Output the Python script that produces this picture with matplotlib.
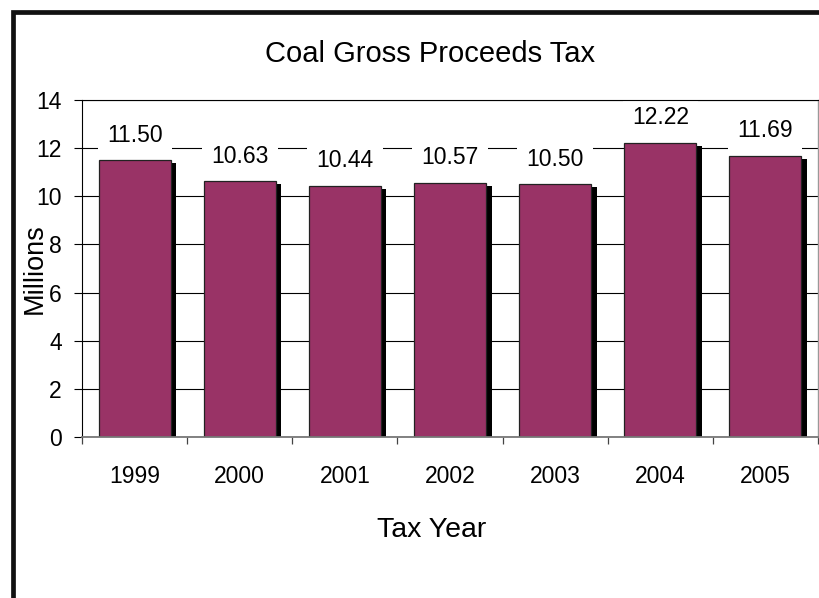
import matplotlib
matplotlib.use("Agg")
import matplotlib.pyplot as plt
import matplotlib.transforms as mtransforms
from matplotlib.patches import Rectangle

plt.rcParams['font.family'] = ['Liberation Sans', 'DejaVu Sans']

# tax collected per year, in millions
years = ['1999', '2000', '2001', '2002', '2003', '2004', '2005']
tax_millions = [11.50, 10.63, 10.44, 10.57, 10.50, 12.22, 11.69]
y_ticks = [0, 2, 4, 6, 8, 10, 12, 14]

W, H = 819, 598
fig = plt.figure(figsize=(W / 100, H / 100), dpi=100)
ax = fig.add_axes([82 / W, 1 - 437 / H, 736 / W, 337 / H])

x = range(len(years))
bar_w = 0.685

# drop shadow behind each bar, nudged right and down a few pixels
shadow = ax.bar(x, tax_millions, width=bar_w, color='black', zorder=1.9)
offset = mtransforms.ScaledTranslation(5.5 / 100, -3 / 100, fig.dpi_scale_trans)
for r in shadow:
    r.set_transform(ax.transData + offset)

bars = ax.bar(x, tax_millions, width=bar_w, color='#993366',
              edgecolor='#222222', linewidth=0.9, zorder=2)

for xi, v in zip(x, tax_millions):
    ax.annotate(f'{v:.2f}', (xi, v), xytext=(0, 18), textcoords='offset points',
                ha='center', va='center', fontsize=16.5, zorder=3,
                bbox=dict(boxstyle='square,pad=0.4', fc='white', ec='none'))

ax.set_xlim(-0.5, len(years) - 0.5)
ax.set_ylim(0, 14)
ax.set_yticks(y_ticks)
ax.set_yticklabels([str(t) for t in y_ticks])
ax.set_xticks(list(x))
ax.set_xticklabels(years)
ax.set_xticks([i - 0.5 for i in range(len(years) + 1)], minor=True)

ax.tick_params(axis='y', direction='out', length=6, width=0.8, pad=8.5,
               labelsize=16.5, colors='black')
ax.tick_params(axis='x', which='major', length=0, pad=20, labelsize=16.5)
ax.tick_params(axis='x', which='minor', direction='out', length=5, width=0.9,
               color='#444444')

ax.yaxis.grid(True, color='black', linewidth=0.8, zorder=0.5)
ax.set_axisbelow(True)

ax.spines['left'].set_color('black')
ax.spines['left'].set_linewidth(0.8)
ax.spines['top'].set_color('black')
ax.spines['top'].set_linewidth(0.8)
ax.spines['top'].set_zorder(4)
ax.spines['bottom'].set_color('#777777')
ax.spines['bottom'].set_linewidth(1.3)
ax.spines['right'].set_color('#999999')
ax.spines['right'].set_linewidth(1.0)

fig.text(430 / W, 1 - 62.5 / H, 'Coal Gross Proceeds Tax', ha='center',
         va='baseline', fontsize=21)
fig.text(432 / W, 1 - 537 / H, 'Tax Year', ha='center', va='baseline',
         fontsize=20.5)
fig.text(35 / W, 1 - 268.5 / H, 'Millions', ha='center', va='center',
         rotation=90, fontsize=19.5)

# heavy outer frame, running off the right and bottom edges
frame = Rectangle((12.5 / W, -0.1), 1.2, (H - 11.5) / H + 0.1,
                  transform=fig.transFigure, fill=False, edgecolor='#111111',
                  linewidth=3.4, clip_on=False)
fig.patches.append(frame)

fig.savefig('out.png', dpi=100)
